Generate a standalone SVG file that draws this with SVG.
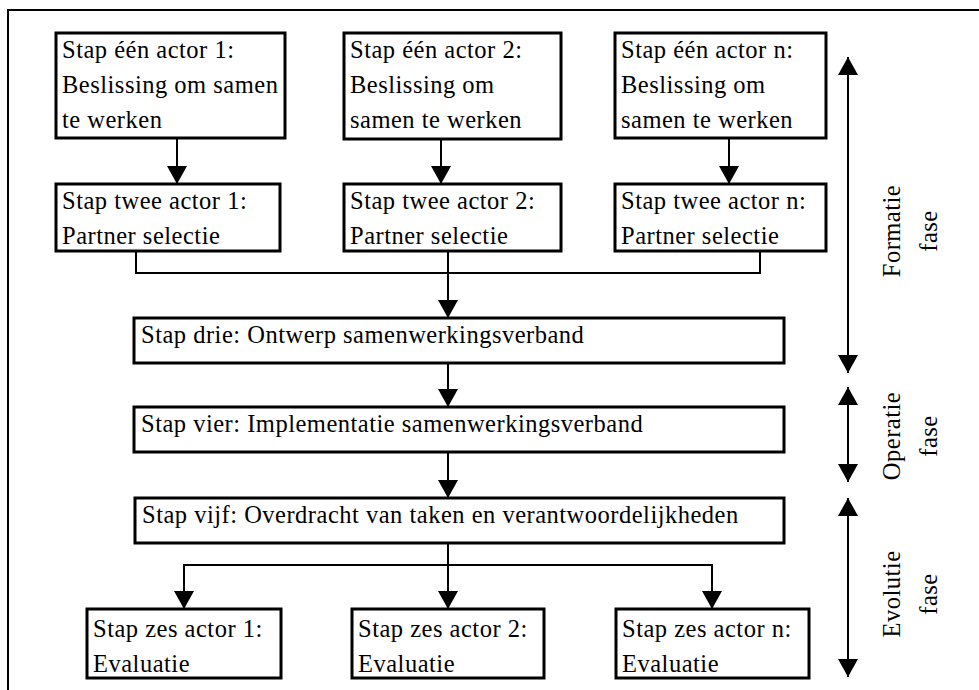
<svg xmlns="http://www.w3.org/2000/svg" width="979" height="690" viewBox="0 0 979 690">
<style>
  text { font-size: 24.5px; letter-spacing: 0.5px; fill: #000; }
  .box { fill: #fff; stroke: #000; stroke-width: 3; }
  .ln { fill: none; stroke: #000; stroke-width: 2; }
  .mid { text-anchor: middle; }
</style>
<defs>
  <marker id="ah" markerUnits="userSpaceOnUse" viewBox="0 0 18 20" markerWidth="18" markerHeight="20" refX="18" refY="10" orient="auto">
    <path d="M0,0 L18,10 L0,20 z" fill="#000"/>
  </marker>
  <marker id="ahs" markerUnits="userSpaceOnUse" viewBox="0 0 18 20" markerWidth="18" markerHeight="20" refX="18" refY="10" orient="auto-start-reverse">
    <path d="M0,0 L18,10 L0,20 z" fill="#000"/>
  </marker>
</defs>
<rect x="8" y="10" width="1000" height="700" fill="#fff" stroke="#000" stroke-width="2"/>

<g id="connectors">
  <line class="ln" x1="177" y1="138" x2="177" y2="184" marker-end="url(#ah)"/>
  <line class="ln" x1="441" y1="139" x2="441" y2="184" marker-end="url(#ah)"/>
  <line class="ln" x1="729" y1="138" x2="729" y2="184" marker-end="url(#ah)"/>
  <polyline class="ln" points="136,251 136,273 760,273 760,251"/>
  <line class="ln" x1="448" y1="251" x2="448" y2="318" marker-end="url(#ah)"/>
  <line class="ln" x1="448" y1="363" x2="448" y2="407" marker-end="url(#ah)"/>
  <line class="ln" x1="448" y1="452" x2="448" y2="498" marker-end="url(#ah)"/>
  <line class="ln" x1="448" y1="543" x2="448" y2="609" marker-end="url(#ah)"/>
  <polyline class="ln" points="184,609 184,565 712,565 712,609" marker-start="url(#ahs)" marker-end="url(#ah)"/>
  <line class="ln" x1="848" y1="57" x2="848" y2="373" marker-start="url(#ahs)" marker-end="url(#ah)"/>
  <line class="ln" x1="848" y1="387" x2="848" y2="482" marker-start="url(#ahs)" marker-end="url(#ah)"/>
  <line class="ln" x1="848" y1="498" x2="848" y2="677" marker-start="url(#ahs)" marker-end="url(#ah)"/>
</g>

<g id="een1" font-family="Liberation Serif, serif">
  <rect class="box" x="56" y="33" width="229" height="105"/>
  <text x="62" y="58">Stap één actor 1:</text>
  <text x="62" y="93">Beslissing om samen</text>
  <text x="62" y="128">te werken</text>
</g>
<g id="een2" font-family="Liberation Serif, serif">
  <rect class="box" x="344" y="33" width="217" height="106"/>
  <text x="350" y="58">Stap één actor 2:</text>
  <text x="350" y="93">Beslissing om</text>
  <text x="350" y="128">samen te werken</text>
</g>
<g id="een3" font-family="Liberation Serif, serif">
  <rect class="box" x="615" y="33" width="211" height="105"/>
  <text x="621" y="58">Stap één actor n:</text>
  <text x="621" y="93">Beslissing om</text>
  <text x="621" y="128">samen te werken</text>
</g>

<g id="twee1" font-family="Liberation Serif, serif">
  <rect class="box" x="56" y="184" width="224" height="67"/>
  <text x="62" y="209">Stap twee actor 1:</text>
  <text x="62" y="244">Partner selectie</text>
</g>
<g id="twee2" font-family="Liberation Serif, serif">
  <rect class="box" x="344" y="184" width="217" height="67"/>
  <text x="350" y="209">Stap twee actor 2:</text>
  <text x="350" y="244">Partner selectie</text>
</g>
<g id="twee3" font-family="Liberation Serif, serif">
  <rect class="box" x="615" y="184" width="211" height="67"/>
  <text x="621" y="209">Stap twee actor n:</text>
  <text x="621" y="244">Partner selectie</text>
</g>

<g id="drie" font-family="Liberation Serif, serif">
  <rect class="box" x="134" y="318" width="650" height="45"/>
  <text x="141" y="343">Stap drie: Ontwerp samenwerkingsverband</text>
</g>
<g id="vier" font-family="Liberation Serif, serif">
  <rect class="box" x="134" y="407" width="650" height="45"/>
  <text x="141" y="432">Stap vier: Implementatie samenwerkingsverband</text>
</g>
<g id="vijf" font-family="Liberation Serif, serif">
  <rect class="box" x="135" y="498" width="649" height="45"/>
  <text x="142" y="523">Stap vijf: Overdracht van taken en verantwoordelijkheden</text>
</g>

<g id="zes1" font-family="Liberation Serif, serif">
  <rect class="box" x="87" y="609" width="194" height="69"/>
  <text x="93" y="637">Stap zes actor 1:</text>
  <text x="93" y="672">Evaluatie</text>
</g>
<g id="zes2" font-family="Liberation Serif, serif">
  <rect class="box" x="352" y="609" width="192" height="69"/>
  <text x="358" y="637">Stap zes actor 2:</text>
  <text x="358" y="672">Evaluatie</text>
</g>
<g id="zes3" font-family="Liberation Serif, serif">
  <rect class="box" x="616" y="609" width="193" height="69"/>
  <text x="622" y="637">Stap zes actor n:</text>
  <text x="622" y="672">Evaluatie</text>
</g>

<g id="formatie" font-family="Liberation Serif, serif">
  <text class="mid" transform="translate(900,231) rotate(-90)">Formatie</text>
  <text class="mid" transform="translate(937,231) rotate(-90)">fase</text>
</g>
<g id="operatie" font-family="Liberation Serif, serif">
  <text class="mid" transform="translate(900,436) rotate(-90)">Operatie</text>
  <text class="mid" transform="translate(937,436) rotate(-90)">fase</text>
</g>
<g id="evolutie" font-family="Liberation Serif, serif">
  <text class="mid" transform="translate(900,594) rotate(-90)">Evolutie</text>
  <text class="mid" transform="translate(937,594) rotate(-90)">fase</text>
</g>
</svg>
